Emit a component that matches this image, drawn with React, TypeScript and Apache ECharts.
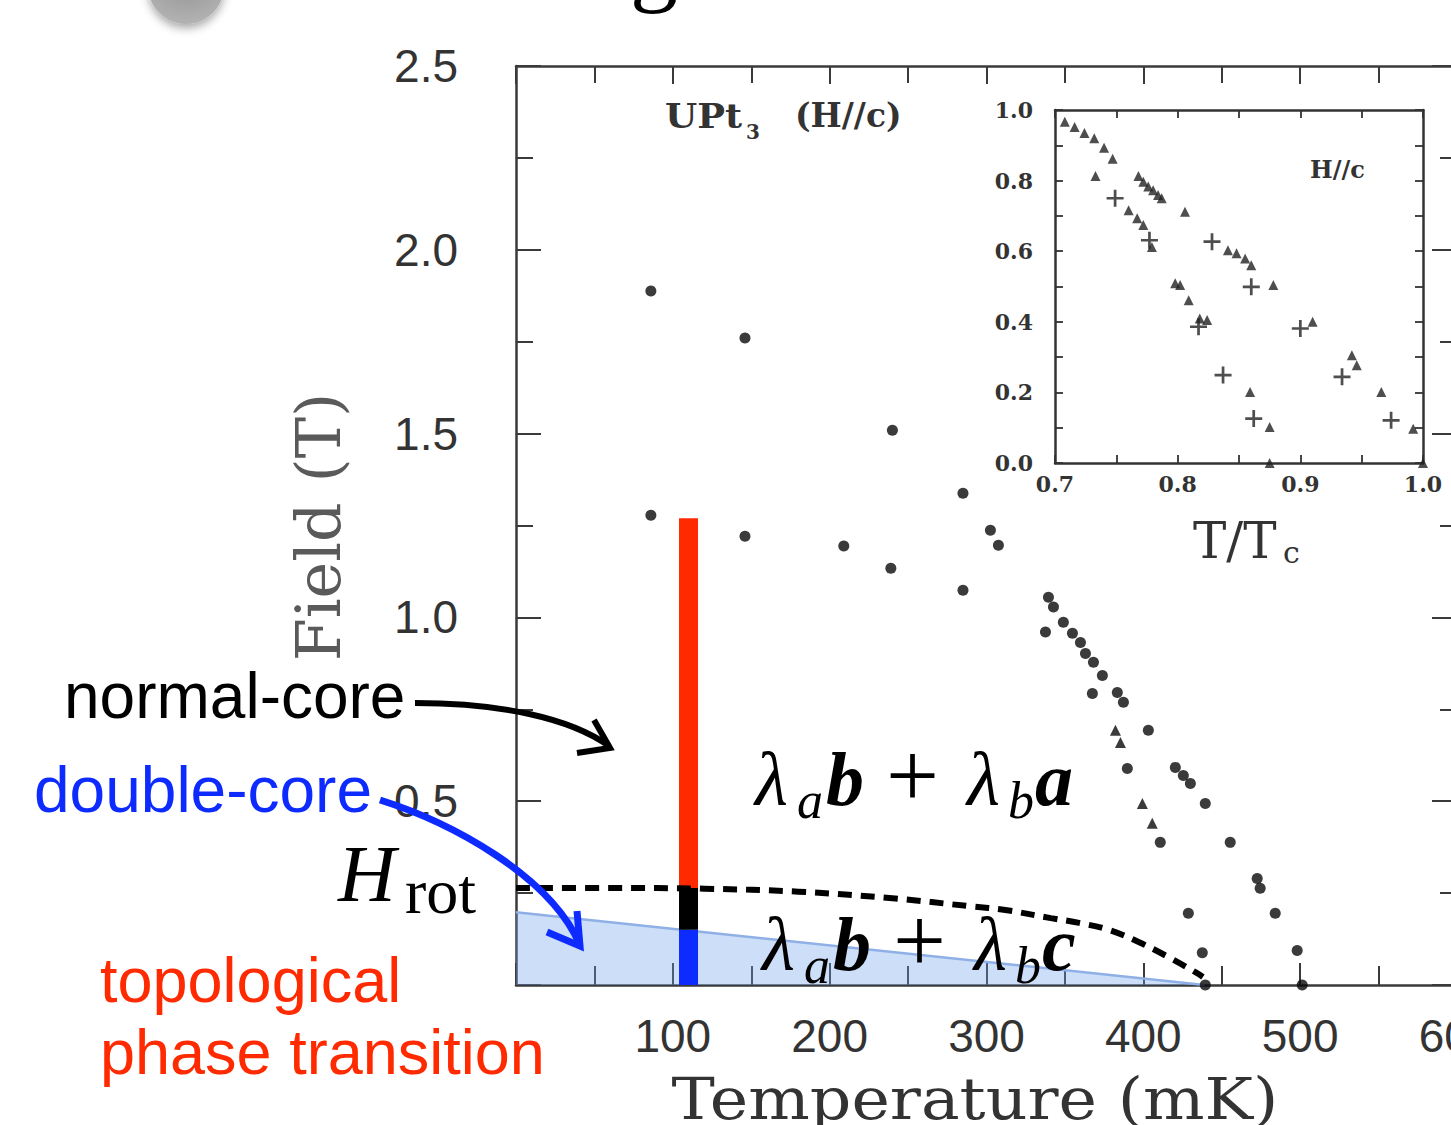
import { useEffect, useRef } from 'react';
import * as echarts from 'echarts';

// ---- main panel: UPt3, H // c, field (T) vs temperature (mK) ----
const fieldDots: [number, number][] = [
  [86, 1.888], [146, 1.76], [240, 1.509], [285, 1.338],
  [86, 1.278], [146, 1.221], [209, 1.194], [239, 1.134], [285, 1.074],
  [302.5, 1.237], [307.6, 1.196],
  [339.5, 1.055], [342.7, 1.028], [337.6, 0.96], [349, 0.987], [354.8, 0.957],
  [359.9, 0.932], [363.1, 0.902], [368.2, 0.878], [373.9, 0.842],
  [367.5, 0.793], [383.4, 0.796], [387.3, 0.769], [403.2, 0.693],
  [389.8, 0.589], [420.4, 0.592], [425.5, 0.57], [430, 0.548], [439.5, 0.494],
  [410.8, 0.388], [455.4, 0.388], [472.6, 0.29], [474.5, 0.263],
  [428.7, 0.195], [484.1, 0.195], [437.6, 0.088], [498.1, 0.094],
  [439.5, 0], [501.3, 0],
];
const fieldTriangles: [number, number][] = [
  [382.2, 0.693], [385.4, 0.66], [399.4, 0.494], [405.7, 0.44],
];

// H_rot crossover line
const hRotT = [0, 60, 120, 180, 240, 290, 312, 341, 359, 378, 397, 416, 434, 438];
const hRotH = [0.264, 0.264, 0.262, 0.254, 0.236, 0.214, 0.204, 0.182, 0.169, 0.15, 0.117, 0.076, 0.033, 0.022];

// double-core (topological) region boundary
const topoBoundary: [number, number][] = [[0, 0.198], [439, 0]];

// vertical cut at fixed temperature
const cutT = 110;
const cutTop = 1.27;
const cutRot = 0.264;
const cutDouble = 0.15;

// ---- inset: H/Hc2 vs T/Tc ----
const insetTriangles: [number, number][] = [
  [0.708, 0.967], [0.716, 0.952], [0.724, 0.935], [0.732, 0.92], [0.74, 0.893], [0.747, 0.862],
  [0.733, 0.813],
  [0.768, 0.813], [0.772, 0.797], [0.776, 0.783], [0.78, 0.773], [0.784, 0.759], [0.787, 0.75],
  [0.806, 0.712],
  [0.76, 0.716], [0.767, 0.693], [0.772, 0.674], [0.779, 0.612],
  [0.798, 0.509], [0.802, 0.504], [0.809, 0.461], [0.818, 0.409], [0.824, 0.405],
  [0.859, 0.201], [0.875, 0.102], [0.875, 0],
  [0.841, 0.603], [0.848, 0.594], [0.855, 0.579], [0.86, 0.56],
  [0.878, 0.504], [0.91, 0.4], [0.942, 0.305], [0.946, 0.277],
  [0.966, 0.201], [0.992, 0.097], [1.0, 0],
];
const insetCrosses: [number, number][] = [
  [0.749, 0.75], [0.777, 0.631], [0.817, 0.386], [0.837, 0.249], [0.862, 0.126],
  [0.828, 0.627], [0.86, 0.499], [0.9, 0.381], [0.934, 0.244], [0.974, 0.121],
];

const yTickLabels = ['0.5', '1.0', '1.5', '2.0', '2.5'];
const xTickLabels = ['100', '200', '300', '400', '500', '600'];

const SANS = "'Liberation Sans', Arial, sans-serif";
const SERIF = "'Liberation Serif', 'Times New Roman', serif";
const SCAN = "'DejaVu Serif', serif";
const AXIS = '#3a3a3a';
const RED = '#ff2a00';
const BLUE = '#0d2bff';

type WordOpts = {
  family?: string;
  italic?: boolean;
  bold?: boolean;
  align?: string;
  scaleX?: number;
  rotation?: number;
  k?: number;
};

// text placed by its baseline
function word(x: number, baseline: number, text: string, fs: number, fill: string, o: WordOpts = {}) {
  return {
    type: 'text',
    x,
    y: baseline - (o.k ?? 0.34) * fs,
    z: 100,
    scaleX: o.scaleX ?? 1,
    rotation: o.rotation ?? 0,
    style: {
      text,
      fontSize: fs,
      fontFamily: o.family ?? SANS,
      fontStyle: o.italic ? 'italic' : 'normal',
      fontWeight: o.bold ? 'bold' : 'normal',
      fill,
      align: o.align ?? 'left',
      verticalAlign: 'middle',
    },
  };
}

function lambdaExpr(x0: number, base: number, last: string) {
  const fs = 76;
  const sfs = 52;
  return [
    word(x0, base, 'λ', fs, '#000', { family: SERIF, italic: true }),
    word(x0 + 42, base + 13, 'a', sfs, '#000', { family: SERIF, italic: true }),
    word(x0 + 71, base, 'b', fs, '#000', { family: SERIF, italic: true, bold: true }),
    word(x0 + 131, base + 2, '+', 94, '#000', { family: SERIF }),
    word(x0 + 212, base, 'λ', fs, '#000', { family: SERIF, italic: true }),
    word(x0 + 253, base + 13, 'b', sfs, '#000', { family: SERIF, italic: true }),
    word(x0 + 280, base, last, fs, '#000', { family: SERIF, italic: true, bold: true }),
  ];
}

const CROSS = 'path://M4.2,0H5.8V4.2H10V5.8H5.8V10H4.2V5.8H0V4.2H4.2Z';

function buildOption() {
  const mainTick = { show: true, inside: true, length: 22, lineStyle: { color: AXIS, width: 2 } };
  const mainLine = { show: true, onZero: false, lineStyle: { color: AXIS, width: 2.5 } };
  const insetTick = { show: true, inside: true, length: 8, lineStyle: { color: '#333', width: 1.8 } };
  const insetLine = { show: true, onZero: false, lineStyle: { color: '#333', width: 2.5 } };
  const tickFont = { fontFamily: SANS, fontSize: 46, color: '#333' };
  const insetFont = { fontFamily: SCAN, fontSize: 22, fontWeight: 'bold', color: '#333' };
  const minor = { show: true, splitNumber: 2, length: 17, lineStyle: { color: AXIS, width: 2 } };

  return {
    animation: false,
    backgroundColor: '#fff',
    grid: [
      { left: 516, top: 66, width: 941, height: 919, outerBoundsMode: 'none', containLabel: false },
      {
        left: 1055, top: 110, width: 368, height: 353, outerBoundsMode: 'none', containLabel: false,
        show: true, backgroundColor: '#fff', borderWidth: 0,
      },
    ],
    xAxis: [
      {
        type: 'value', gridIndex: 0, position: 'bottom', min: 0, max: 600, interval: 100,
        axisLine: mainLine, axisTick: mainTick, minorTick: { ...minor, length: 19 },
        splitLine: { show: false },
        axisLabel: {
          ...tickFont, margin: 28,
          formatter: (v: number) => xTickLabels[Math.round(v / 100) - 1] ?? '',
        },
      },
      {
        type: 'value', gridIndex: 0, position: 'top', min: 0, max: 600, interval: 100,
        axisLine: mainLine, axisTick: { ...mainTick, length: 18 }, minorTick: minor,
        splitLine: { show: false }, axisLabel: { show: false },
      },
      {
        type: 'value', gridIndex: 1, position: 'bottom', min: 0.7, max: 1.0, interval: 0.05,
        axisLine: insetLine, axisTick: insetTick, splitLine: { show: false },
        axisLabel: {
          ...insetFont, margin: 10,
          formatter: (v: number) => {
            const t = Math.round(v * 100);
            return t % 10 === 0 ? (t / 100).toFixed(1) : '';
          },
        },
      },
      {
        type: 'value', gridIndex: 1, position: 'top', min: 0.7, max: 1.0, interval: 0.05,
        axisLine: insetLine, axisTick: insetTick, splitLine: { show: false }, axisLabel: { show: false },
      },
    ],
    yAxis: [
      {
        type: 'value', gridIndex: 0, position: 'left', min: 0, max: 2.5, interval: 0.5,
        axisLine: mainLine, axisTick: { ...mainTick, length: 25 }, minorTick: minor,
        splitLine: { show: false },
        axisLabel: {
          ...tickFont, margin: 58,
          formatter: (v: number) => yTickLabels[Math.round(v * 2) - 1] ?? '',
        },
      },
      {
        type: 'value', gridIndex: 0, position: 'right', min: 0, max: 2.5, interval: 0.5,
        axisLine: mainLine, axisTick: { ...mainTick, length: 25 }, minorTick: minor,
        splitLine: { show: false }, axisLabel: { show: false },
      },
      {
        type: 'value', gridIndex: 1, position: 'left', min: 0, max: 1, interval: 0.1,
        axisLine: insetLine, axisTick: insetTick, splitLine: { show: false },
        axisLabel: {
          ...insetFont, margin: 22,
          formatter: (v: number) => {
            const t = Math.round(v * 10);
            return t % 2 === 0 ? (t / 10).toFixed(1) : '';
          },
        },
      },
      {
        type: 'value', gridIndex: 1, position: 'right', min: 0, max: 1, interval: 0.1,
        axisLine: insetLine, axisTick: insetTick, splitLine: { show: false }, axisLabel: { show: false },
      },
    ],
    series: [
      {
        type: 'line', xAxisIndex: 0, yAxisIndex: 0, data: topoBoundary, symbol: 'none', z: 3,
        lineStyle: { color: '#8fb0e6', width: 2.5 },
        areaStyle: { color: 'rgba(110,160,235,0.5)' },
      },
      {
        type: 'scatter', xAxisIndex: 0, yAxisIndex: 0, data: fieldDots, symbol: 'circle',
        symbolSize: 11, itemStyle: { color: '#0a0a0a' }, z: 4,
      },
      {
        type: 'scatter', xAxisIndex: 0, yAxisIndex: 0, data: fieldTriangles, symbol: 'triangle',
        symbolSize: 11, itemStyle: { color: '#0a0a0a' }, z: 4,
      },
      {
        type: 'line', xAxisIndex: 0, yAxisIndex: 0, data: [[cutT, 0], [cutT, cutDouble]],
        symbol: 'none', z: 5, lineStyle: { color: BLUE, width: 19, cap: 'butt' },
      },
      {
        type: 'line', xAxisIndex: 0, yAxisIndex: 0, data: [[cutT, cutDouble], [cutT, cutRot]],
        symbol: 'none', z: 5, lineStyle: { color: '#000', width: 19, cap: 'butt' },
      },
      {
        type: 'line', xAxisIndex: 0, yAxisIndex: 0, data: [[cutT, cutRot], [cutT, cutTop]],
        symbol: 'none', z: 5, lineStyle: { color: RED, width: 19, cap: 'butt' },
      },
      {
        type: 'line', xAxisIndex: 0, yAxisIndex: 0,
        data: hRotT.map((t, i) => [t, hRotH[i]]),
        symbol: 'none', smooth: 0.35, z: 6,
        lineStyle: { color: '#000', width: 6, type: [14, 9] },
      },
      {
        type: 'scatter', xAxisIndex: 2, yAxisIndex: 2, data: insetTriangles, symbol: 'triangle',
        symbolSize: 10, itemStyle: { color: '#222' }, z: 8,
      },
      {
        type: 'scatter', xAxisIndex: 2, yAxisIndex: 2, data: insetCrosses, symbol: CROSS,
        symbolSize: 17, itemStyle: { color: '#222' }, z: 8,
      },
    ],
    graphic: [
      // slide bullet and title descender at the top edge
      {
        type: 'circle', z: 100, shape: { cx: 186, cy: -14, r: 38 },
        style: {
          fill: new echarts.graphic.RadialGradient(0.5, 0.3, 0.8, [
            { offset: 0, color: '#8c8c8c' },
            { offset: 1, color: '#b8b8b8' },
          ]),
          shadowBlur: 10, shadowColor: 'rgba(0,0,0,0.35)', shadowOffsetY: 4,
        },
      },
      word(630, -6, 'g', 96, '#000', { family: SERIF }),

      // scanned-figure labels
      word(318.5, 527, 'Field (T)', 62, '#5a5a5a', { family: SCAN, align: 'center', rotation: Math.PI / 2, k: 0 }),
      word(975, 1119, 'Temperature (mK)', 58, '#333', { family: SCAN, align: 'center', scaleX: 1.12 }),
      word(665, 127, 'UPt', 33, '#333', { family: SCAN, bold: true, scaleX: 1.12 }),
      word(746, 139, '3', 20, '#333', { family: SCAN, bold: true }),
      word(795, 127, '(H//c)', 33, '#333', { family: SCAN, bold: true }),
      word(1310, 178, 'H//c', 24, '#333', { family: SCAN, bold: true }),
      word(1193, 558, 'T/T', 50, '#333', { family: SCAN }),
      word(1283, 563, 'c', 30, '#333', { family: SCAN }),

      // annotations
      word(64, 718, 'normal-core', 64, '#000'),
      word(34, 812, 'double-core', 64, BLUE),
      word(100, 1001, 'topological', 63, RED),
      word(100, 1073, 'phase transition', 63, RED),
      word(338, 901, 'H', 80, '#000', { family: SERIF, italic: true }),
      word(405, 913, 'rot', 64, '#000', { family: SERIF }),
      ...lambdaExpr(755, 805, 'a'),
      ...lambdaExpr(762, 970, 'c'),

      // arrows
      {
        type: 'bezierCurve', z: 100,
        shape: { x1: 415, y1: 703, cpx1: 500, cpy1: 703, cpx2: 570, cpy2: 718, x2: 609, y2: 746 },
        style: { stroke: '#000', lineWidth: 6, fill: null },
      },
      {
        type: 'polyline', z: 100,
        shape: { points: [[594, 720], [610, 748], [577, 753]] },
        style: { stroke: '#000', lineWidth: 6, fill: null },
      },
      {
        type: 'bezierCurve', z: 100,
        shape: { x1: 380, y1: 800, cpx1: 450, cpy1: 822, cpx2: 550, cpy2: 875, x2: 580, y2: 945 },
        style: { stroke: BLUE, lineWidth: 7, fill: null },
      },
      {
        type: 'polyline', z: 100,
        shape: { points: [[577, 911], [580, 946], [547, 932]] },
        style: { stroke: BLUE, lineWidth: 7, fill: null },
      },
    ],
  };
}

export default function App() {
  const ref = useRef<HTMLDivElement>(null);
  useEffect(() => {
    if (!ref.current) return;
    const chart = echarts.init(ref.current, undefined, { renderer: 'svg' });
    chart.setOption(buildOption() as any);
    return () => chart.dispose();
  }, []);
  return (
    <div
      ref={ref}
      style={{ position: 'fixed', left: 0, top: 0, width: 1451, height: 1125, background: '#fff' }}
    />
  );
}
